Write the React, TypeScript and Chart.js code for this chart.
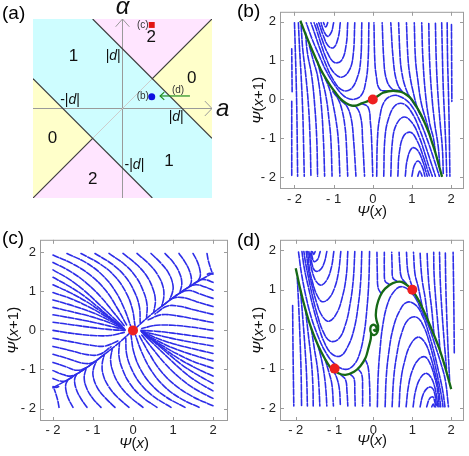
import React, { useEffect, useRef } from "react";
import { Chart, registerables } from "chart.js";
Chart.register(...registerables);

type Pt = [number, number];
type Line = Pt[];

const FONT = '"Liberation Sans", Arial, sans-serif';
const TICKS = [-2, -1, 0, 1, 2];
const TICK_LABELS = ["- 2", "- 1", "0", "1", "2"];

// ---------- panel (a): phase diagram in units of |d| ----------
const A_CYAN_UPPER: Line = [[-1.5, 2.5], [1.5, -0.5]];
const A_CYAN_LOWER: Line = [[-1.5, 0.5], [1.5, -2.5]];
const A_PINK_TOP: Line = [[-1.5, 2.5], [0.5, 0.5], [1.5, 1.5]];
const A_PINK_BOTTOM: Line = [[-1.5, -1.5], [-0.5, -0.5], [1.5, -2.5]];
const A_YELLOW_R_UP: Line = [[0.5, 0.5], [1.5, 1.5]];
const A_YELLOW_R_LO: Line = [[0.5, 0.5], [1.5, -0.5]];
const A_YELLOW_L_UP: Line = [[-1.5, 0.5], [-0.5, -0.5]];
const A_YELLOW_L_LO: Line = [[-1.5, -1.5], [-0.5, -0.5]];
const A_BOUNDARIES: Line[] = [
  [[-0.5, 1.5], [1.5, -0.5]],
  [[-1.5, 0.5], [0.5, -1.5]],
  [[0.5, 0.5], [1.5, 1.5]],
  [[-1.5, -1.5], [-0.5, -0.5]],
];
const A_FAINT: Line = [[-0.5, -0.5], [0.5, 0.5]];
const A_AXES: Line[] = [
  [[-1.5, 0], [1.5, 0]],
  [[0, -1.5], [0, 1.5]],
  [[1.38, 0.125], [1.5, 0], [1.38, -0.125]],
  [[-0.115, 1.37], [0, 1.5], [0.115, 1.37]],
];
const A_ARROW: Line[] = [
  [[1.13, 0.21], [0.63, 0.21]],
  [[0.7, 0.275], [0.63, 0.21], [0.7, 0.145]],
];
const A_POINT_B: Pt[] = [[0.49, 0.195]];
const A_POINT_C: Pt[] = [[0.49, 1.4]];
const A_NUMBERS = [
  { t: "1", a: -0.82, b: 0.87 },
  { t: "1", a: 0.78, b: -0.89 },
  { t: "0", a: 1.16, b: 0.5 },
  { t: "0", a: -1.175, b: -0.5 },
  { t: "2", a: 0.48, b: 1.19 },
  { t: "2", a: -0.5, b: -1.18 },
];
const A_D_LABELS = [
  { neg: false, a: -0.03, b: 0.87, align: "right" },
  { neg: true, a: -0.88, b: 0.14, align: "center" },
  { neg: false, a: 0.9, b: -0.14, align: "center" },
  { neg: true, a: 0.2, b: -0.95, align: "center" },
];
const A_SMALL = [
  { t: "(b)", a: 0.34, b: 0.2 },
  { t: "(c)", a: 0.34, b: 1.4 },
  { t: "(d)", a: 0.93, b: 0.31 },
];

// ---------- panel (b) ----------
const B_EDGE_LEFT: Line[] = [
  [[-2.07, 1.3], [-2.065, 0.7], [-2.06, 0.2]],
  [[-2.07, -0.05], [-2.07, -1.0], [-2.07, -1.95]],
  [[-2.0, 1.97], [-1.98, 1.3], [-1.96, 0.6], [-1.94, -0.3], [-1.93, -1.05], [-1.92, -1.97]],
  [[-1.9, 1.97], [-1.87, 1.3], [-1.83, 0.6], [-1.79, -0.3], [-1.77, -1.05], [-1.75, -1.97]],
];
const B_BELOW: Line[] = [
  [[-1.83, 1.9], [-1.79, 1.3], [-1.71, 0.6], [-1.64, -0.2], [-1.6, -1.05], [-1.58, -1.97]],
  [[-1.72, 1.72], [-1.67, 1.2], [-1.56, 0.6], [-1.48, -0.2], [-1.43, -1.05], [-1.41, -1.97]],
  [[-1.62, 1.38], [-1.52, 1.0], [-1.41, 0.6], [-1.32, -0.1], [-1.26, -1.05], [-1.23, -1.97]],
  [[-1.42, 1.0], [-1.32, 0.6], [-1.2, 0.1], [-1.12, -0.5], [-1.07, -1.05], [-1.04, -1.97]],
  [[-1.22, 0.55], [-1.1, 0.25], [-1.0, -0.2], [-0.93, -0.6], [-0.88, -1.05], [-0.84, -1.97]],
  [[-1.02, 0.2], [-0.88, 0.0], [-0.78, -0.3], [-0.71, -0.7], [-0.68, -1.05], [-0.64, -1.97]],
  [[-0.82, -0.02], [-0.66, -0.18], [-0.55, -0.5], [-0.49, -1.05], [-0.43, -1.97]],
  [[-0.6, -0.15], [-0.42, -0.2], [-0.3, -0.5], [-0.26, -1.05], [-0.21, -1.97]],
  [[-0.3, -0.1], [-0.12, -0.2], [-0.06, -0.6], [-0.03, -1.05], [0.0, -1.97]],
];
const B_EDGE_RIGHT: Line[] = [
  [[2.01, 1.92], [2.015, 0.9], [2.02, -0.05]],
  [[1.9, 1.97], [1.91, 1.05], [1.93, 0.3], [1.95, -0.6], [1.96, -1.3], [1.97, -1.97]],
  [[1.76, 1.97], [1.78, 1.05], [1.8, 0.3], [1.84, -0.6], [1.87, -1.3], [1.89, -1.97]],
];
const B_ABOVE: Line[] = [
  [[1.8, -1.9], [1.78, -1.3], [1.72, -0.6], [1.66, 0.2], [1.62, 1.05], [1.6, 1.97]],
  [[1.71, -1.7], [1.67, -1.2], [1.58, -0.6], [1.5, 0.2], [1.45, 1.05], [1.43, 1.97]],
  [[1.6, -1.35], [1.55, -1.0], [1.45, -0.6], [1.35, 0.1], [1.28, 1.05], [1.25, 1.97]],
  [[1.47, -0.95], [1.38, -0.6], [1.24, -0.1], [1.15, 0.5], [1.09, 1.05], [1.06, 1.97]],
  [[1.3, -0.55], [1.15, -0.25], [1.03, 0.2], [0.95, 0.6], [0.9, 1.05], [0.86, 1.97]],
  [[1.1, -0.18], [0.95, 0.05], [0.82, 0.35], [0.74, 0.7], [0.7, 1.05], [0.66, 1.97]],
  [[0.92, 0.08], [0.72, 0.24], [0.6, 0.5], [0.52, 1.05], [0.46, 1.97]],
  [[0.7, 0.22], [0.48, 0.28], [0.34, 0.55], [0.28, 1.05], [0.24, 1.97]],
  [[0.4, 0.21], [0.18, 0.26], [0.09, 0.6], [0.05, 1.05], [0.03, 1.97]],
];
const B_CUPS: Line[] = [
  [[-0.1, 1.97], [-0.12, 1.0], [-0.18, 0.45], [-0.3, 0.1], [-0.52, 0.0], [-0.75, 0.1], [-0.98, 0.38], [-1.2, 0.75], [-1.38, 1.15], [-1.55, 1.55], [-1.7, 1.97]],
  [[-0.28, 1.97], [-0.31, 1.0], [-0.4, 0.55], [-0.58, 0.25], [-0.8, 0.25], [-1.02, 0.52], [-1.2, 0.9], [-1.35, 1.3], [-1.48, 1.68], [-1.58, 1.97]],
  [[-0.46, 1.97], [-0.5, 1.15], [-0.6, 0.75], [-0.8, 0.57], [-1.02, 0.72], [-1.2, 1.08], [-1.34, 1.48], [-1.44, 1.8], [-1.5, 1.97]],
  [[-0.64, 1.97], [-0.68, 1.4], [-0.8, 1.0], [-0.98, 0.95], [-1.15, 1.18], [-1.3, 1.55], [-1.4, 1.85], [-1.44, 1.97]],
  [[-0.83, 1.97], [-0.88, 1.6], [-1.0, 1.33], [-1.14, 1.38], [-1.28, 1.68], [-1.36, 1.92], [-1.38, 1.97]],
  [[-1.0, 1.97], [-1.06, 1.72], [-1.16, 1.62], [-1.27, 1.8], [-1.32, 1.97]],
  [[-1.15, 1.97], [-1.2, 1.86], [-1.26, 1.97]],
];
const B_CAPS: Line[] = [
  [[0.1, -1.97], [0.12, -1.0], [0.18, -0.45], [0.3, -0.05], [0.52, 0.1], [0.75, 0.05], [0.98, -0.15], [1.2, -0.55], [1.38, -1.0], [1.55, -1.5], [1.7, -1.97]],
  [[0.28, -1.97], [0.31, -1.0], [0.4, -0.5], [0.58, -0.15], [0.8, -0.12], [1.02, -0.38], [1.2, -0.78], [1.35, -1.2], [1.48, -1.6], [1.6, -1.97]],
  [[0.46, -1.97], [0.5, -1.1], [0.6, -0.65], [0.8, -0.45], [1.02, -0.62], [1.2, -1.0], [1.34, -1.42], [1.44, -1.75], [1.52, -1.97]],
  [[0.64, -1.97], [0.68, -1.35], [0.8, -0.92], [0.98, -0.85], [1.15, -1.1], [1.3, -1.5], [1.4, -1.82], [1.45, -1.97]],
  [[0.83, -1.97], [0.88, -1.55], [1.0, -1.25], [1.14, -1.3], [1.28, -1.6], [1.37, -1.9], [1.39, -1.97]],
  [[1.0, -1.97], [1.06, -1.7], [1.16, -1.58], [1.27, -1.75], [1.33, -1.97]],
  [[1.15, -1.97], [1.2, -1.84], [1.26, -1.97]],
];
const B_MANIFOLD: Line[] = [
  [[-1.85, 2.02], [-1.72, 1.68], [-1.58, 1.34], [-1.45, 1.04], [-1.33, 0.77], [-1.2, 0.54], [-1.08, 0.35], [-0.95, 0.17], [-0.83, 0.02], [-0.68, -0.1], [-0.53, -0.16], [-0.4, -0.15], [-0.28, -0.1], [-0.14, -0.05], [0, 0], [0.13, 0.09], [0.26, 0.17], [0.4, 0.21], [0.52, 0.22], [0.63, 0.21], [0.73, 0.19], [0.86, 0.12], [0.98, 0.02], [1.1, -0.16], [1.23, -0.39], [1.34, -0.63], [1.44, -0.88], [1.52, -1.12], [1.6, -1.37], [1.68, -1.66], [1.77, -1.99]],
];
const B_FIXED: Pt[] = [[0, 0]];

// ---------- panel (c) ----------
const C_TOP: Line[] = [
  [[1.85, 1.97], [1.88, 1.8], [1.93, 1.62], [1.97, 1.5]],
  [[1.5, 1.97], [1.6, 1.78], [1.67, 1.56], [1.68, 1.38], [1.62, 1.26]],
  [[1.15, 1.97], [1.3, 1.75], [1.42, 1.5], [1.46, 1.26], [1.4, 1.1]],
  [[0.8, 1.97], [1.0, 1.75], [1.15, 1.5], [1.22, 1.22], [1.17, 0.96]],
  [[0.45, 1.97], [0.7, 1.72], [0.9, 1.45], [1.0, 1.15], [0.98, 0.95], [0.92, 0.8]],
  [[0.1, 1.97], [0.4, 1.7], [0.62, 1.42], [0.75, 1.12], [0.77, 0.85], [0.72, 0.63]],
  [[-0.25, 1.97], [0.1, 1.68], [0.35, 1.38], [0.5, 1.06], [0.56, 0.76], [0.52, 0.48]],
  [[-0.6, 1.97], [-0.2, 1.68], [0.08, 1.36], [0.26, 1.0], [0.35, 0.66], [0.34, 0.33]],
  [[-0.95, 1.97], [-0.5, 1.68], [-0.18, 1.36], [0.04, 0.98], [0.16, 0.6], [0.18, 0.2]],
  [[-1.3, 1.97], [-0.82, 1.7], [-0.45, 1.38], [-0.18, 0.98], [-0.02, 0.56], [0.05, 0.12]],
  [[-1.65, 1.97], [-1.15, 1.72], [-0.75, 1.4], [-0.44, 1.0], [-0.22, 0.56], [-0.06, 0.12]],
];
const C_LEFT: Line[] = [
  [[-2, 1.93], [-1.5, 1.7], [-1.05, 1.4], [-0.68, 1.02], [-0.4, 0.58], [-0.16, 0.14]],
  [[-2, 1.74], [-1.55, 1.5], [-1.15, 1.2], [-0.8, 0.85], [-0.5, 0.48], [-0.22, 0.12]],
  [[-2, 1.55], [-1.58, 1.3], [-1.22, 1.02], [-0.88, 0.7], [-0.57, 0.4], [-0.26, 0.1]],
  [[-2, 1.36], [-1.58, 1.12], [-1.22, 0.88], [-0.88, 0.6], [-0.57, 0.33], [-0.26, 0.08]],
  [[-2, 1.17], [-1.56, 0.96], [-1.17, 0.74], [-0.82, 0.5], [-0.52, 0.27], [-0.24, 0.06]],
  [[-2, 0.97], [-1.52, 0.8], [-1.1, 0.6], [-0.75, 0.4], [-0.46, 0.21], [-0.22, 0.05]],
  [[-2, 0.78], [-1.5, 0.63], [-1.02, 0.46], [-0.62, 0.27], [-0.22, 0.04]],
  [[-2, 0.59], [-1.5, 0.47], [-1.0, 0.34], [-0.6, 0.2], [-0.22, 0.03]],
  [[-2, 0.4], [-1.5, 0.31], [-1.0, 0.21], [-0.58, 0.11], [-0.2, 0.02]],
  [[-2, 0.21], [-1.5, 0.14], [-1.0, 0.07], [-0.56, 0.02], [-0.2, 0.0]],
  [[-2, 0.0], [-1.5, -0.08], [-1.0, -0.13], [-0.58, -0.13], [-0.22, -0.05]],
  [[-2, -0.2], [-1.5, -0.3], [-1.05, -0.38], [-0.7, -0.4], [-0.38, -0.27]],
  [[-2, -0.41], [-1.55, -0.52], [-1.15, -0.62], [-0.85, -0.62], [-0.55, -0.42]],
  [[-2, -0.61], [-1.6, -0.73], [-1.25, -0.84], [-1.0, -0.82], [-0.72, -0.62]],
  [[-2, -0.82], [-1.68, -0.93], [-1.42, -1.02], [-1.2, -0.97], [-0.95, -0.8]],
  [[-2, -1.03], [-1.78, -1.12], [-1.57, -1.17], [-1.38, -1.1], [-1.15, -0.94]],
  [[-2, -1.23], [-1.85, -1.29], [-1.7, -1.3], [-1.52, -1.2]],
  [[-2, -1.44], [-1.92, -1.46], [-1.82, -1.42]],
];
const C_BOTTOM: Line[] = [
  [[-1.85, -1.97], [-1.88, -1.8], [-1.93, -1.62], [-1.97, -1.5]],
  [[-1.5, -1.97], [-1.6, -1.78], [-1.67, -1.56], [-1.68, -1.38], [-1.62, -1.26]],
  [[-1.15, -1.97], [-1.3, -1.75], [-1.42, -1.5], [-1.46, -1.26], [-1.4, -1.1]],
  [[-0.8, -1.97], [-1.0, -1.75], [-1.15, -1.5], [-1.22, -1.22], [-1.17, -0.96]],
  [[-0.45, -1.97], [-0.7, -1.72], [-0.9, -1.45], [-1.0, -1.15], [-0.98, -0.95], [-0.92, -0.8]],
  [[-0.1, -1.97], [-0.4, -1.7], [-0.62, -1.42], [-0.75, -1.12], [-0.77, -0.85], [-0.72, -0.63]],
  [[0.25, -1.97], [-0.1, -1.68], [-0.35, -1.38], [-0.5, -1.06], [-0.56, -0.76], [-0.52, -0.48]],
  [[0.6, -1.97], [0.2, -1.68], [-0.08, -1.36], [-0.26, -1.0], [-0.35, -0.66], [-0.34, -0.33]],
  [[0.95, -1.97], [0.5, -1.68], [0.18, -1.36], [-0.04, -0.98], [-0.16, -0.6], [-0.18, -0.2]],
  [[1.3, -1.97], [0.82, -1.7], [0.45, -1.38], [0.18, -0.98], [0.02, -0.56], [-0.05, -0.12]],
  [[1.65, -1.97], [1.15, -1.72], [0.75, -1.4], [0.44, -1.0], [0.22, -0.56], [0.06, -0.12]],
];
const C_RIGHT: Line[] = [
  [[2, -1.93], [1.5, -1.7], [1.05, -1.4], [0.68, -1.02], [0.4, -0.58], [0.16, -0.14]],
  [[2, -1.74], [1.55, -1.5], [1.15, -1.2], [0.8, -0.85], [0.5, -0.48], [0.22, -0.12]],
  [[2, -1.55], [1.58, -1.3], [1.22, -1.02], [0.88, -0.7], [0.57, -0.4], [0.26, -0.1]],
  [[2, -1.36], [1.58, -1.12], [1.22, -0.88], [0.88, -0.6], [0.57, -0.33], [0.26, -0.08]],
  [[2, -1.17], [1.56, -0.96], [1.17, -0.74], [0.82, -0.5], [0.52, -0.27], [0.24, -0.06]],
  [[2, -0.97], [1.52, -0.8], [1.1, -0.6], [0.75, -0.4], [0.46, -0.21], [0.22, -0.05]],
  [[2, -0.78], [1.5, -0.63], [1.02, -0.46], [0.62, -0.27], [0.22, -0.04]],
  [[2, -0.59], [1.5, -0.47], [1.0, -0.34], [0.6, -0.2], [0.22, -0.03]],
  [[2, -0.4], [1.5, -0.31], [1.0, -0.21], [0.58, -0.11], [0.2, -0.02]],
  [[2, -0.21], [1.5, -0.14], [1.0, -0.07], [0.56, -0.02], [0.2, 0.0]],
  [[2, 0.0], [1.5, 0.08], [1.0, 0.13], [0.58, 0.13], [0.22, 0.05]],
  [[2, 0.2], [1.5, 0.3], [1.05, 0.38], [0.7, 0.4], [0.38, 0.27]],
  [[2, 0.41], [1.55, 0.52], [1.15, 0.62], [0.85, 0.62], [0.55, 0.42]],
  [[2, 0.61], [1.6, 0.73], [1.25, 0.84], [1.0, 0.82], [0.72, 0.62]],
  [[2, 0.82], [1.68, 0.93], [1.42, 1.02], [1.2, 0.97], [0.95, 0.8]],
  [[2, 1.03], [1.78, 1.12], [1.57, 1.17], [1.38, 1.1], [1.15, 0.94]],
  [[2, 1.23], [1.85, 1.29], [1.7, 1.3], [1.52, 1.2]],
  [[2, 1.44], [1.92, 1.46], [1.82, 1.42]],
];
const C_ARMS: Line[] = [
  [[2.0, 1.47], [1.6, 1.24], [1.2, 0.98], [0.8, 0.68], [0.4, 0.36], [0.06, 0.05]],
  [[-2.0, -1.47], [-1.6, -1.24], [-1.2, -0.98], [-0.8, -0.68], [-0.4, -0.36], [-0.06, -0.05]],
];
const C_FIXED: Pt[] = [[0, 0]];

// ---------- panel (d) ----------
const D_EDGE_LEFT: Line[] = [
  [[-2.08, 0.6], [-2.07, -0.5], [-2.05, -1.95]],
  [[-1.96, 1.3], [-1.92, 0.5], [-1.88, -0.5], [-1.86, -1.2], [-1.85, -1.95]],
];
const D_BELOW: Line[] = [
  [[-1.88, 1.0], [-1.82, 0.3], [-1.76, -0.5], [-1.72, -1.2], [-1.7, -1.95]],
  [[-1.75, 0.5], [-1.68, -0.1], [-1.6, -0.8], [-1.56, -1.4], [-1.55, -1.95]],
  [[-1.6, 0.02], [-1.52, -0.5], [-1.44, -1.0], [-1.4, -1.5], [-1.38, -1.95]],
  [[-1.43, -0.4], [-1.33, -0.8], [-1.26, -1.2], [-1.22, -1.6], [-1.2, -1.95]],
  [[-1.25, -0.75], [-1.15, -1.08], [-1.07, -1.4], [-1.03, -1.95]],
  [[-1.05, -1.02], [-0.95, -1.22], [-0.88, -1.5], [-0.85, -1.95]],
  [[-0.85, -1.15], [-0.72, -1.28], [-0.68, -1.6], [-0.66, -1.95]],
  [[-0.6, -1.14], [-0.5, -1.25], [-0.48, -1.6], [-0.47, -1.95]],
  [[-0.4, -1.0], [-0.3, -1.15], [-0.28, -1.5], [-0.28, -1.95]],
  [[-0.22, -0.75], [-0.14, -0.95], [-0.1, -1.4], [-0.09, -1.95]],
];
const D_EDGE_RIGHT: Line[] = [
  [[2.08, -0.6], [2.07, 0.5], [2.05, 1.95]],
  [[1.96, -1.3], [1.92, -0.5], [1.88, 0.5], [1.86, 1.2], [1.85, 1.95]],
];
const D_ABOVE: Line[] = [
  [[1.88, -1.0], [1.82, -0.3], [1.76, 0.5], [1.72, 1.2], [1.7, 1.95]],
  [[1.72, -0.6], [1.66, 0.1], [1.6, 0.8], [1.56, 1.4], [1.55, 1.95]],
  [[1.56, -0.15], [1.5, 0.5], [1.44, 1.0], [1.4, 1.5], [1.38, 1.95]],
  [[1.4, 0.25], [1.33, 0.8], [1.26, 1.2], [1.22, 1.6], [1.2, 1.95]],
  [[1.25, 0.6], [1.15, 1.08], [1.07, 1.4], [1.03, 1.95]],
  [[1.07, 0.9], [0.95, 1.22], [0.88, 1.5], [0.85, 1.95]],
  [[0.85, 1.15], [0.72, 1.32], [0.68, 1.6], [0.66, 1.95]],
  [[0.6, 1.22], [0.5, 1.3], [0.48, 1.6], [0.47, 1.95]],
  [[0.4, 1.14], [0.3, 1.22], [0.28, 1.5], [0.28, 1.95]],
  [[0.2, 0.9], [0.12, 1.05], [0.1, 1.4], [0.09, 1.95]],
];
const D_CUPS: Line[] = [
  [[-0.1, 1.97], [-0.12, 1.2], [-0.17, 0.5], [-0.24, -0.1], [-0.35, -0.6], [-0.5, -0.9], [-0.72, -1.02], [-1.0, -0.88], [-1.25, -0.55], [-1.45, -0.12], [-1.6, 0.3], [-1.73, 0.8], [-1.85, 1.4], [-1.93, 1.97]],
  [[-0.3, 1.97], [-0.33, 1.2], [-0.4, 0.55], [-0.5, 0.0], [-0.65, -0.42], [-0.85, -0.68], [-1.08, -0.62], [-1.28, -0.3], [-1.42, 0.1], [-1.55, 0.55], [-1.67, 1.05], [-1.78, 1.55], [-1.84, 1.97]],
  [[-0.48, 1.97], [-0.52, 1.25], [-0.6, 0.65], [-0.72, 0.12], [-0.9, -0.25], [-1.12, -0.3], [-1.3, -0.05], [-1.44, 0.35], [-1.56, 0.8], [-1.67, 1.3], [-1.75, 1.7], [-1.79, 1.97]],
  [[-0.66, 1.97], [-0.7, 1.35], [-0.8, 0.82], [-0.95, 0.4], [-1.15, 0.2], [-1.33, 0.35], [-1.47, 0.7], [-1.58, 1.1], [-1.67, 1.5], [-1.73, 1.97]],
  [[-0.84, 1.97], [-0.9, 1.45], [-1.0, 1.05], [-1.15, 0.78], [-1.32, 0.7], [-1.46, 0.88], [-1.57, 1.2], [-1.65, 1.55], [-1.69, 1.97]],
  [[-1.02, 1.97], [-1.08, 1.58], [-1.2, 1.25], [-1.35, 1.12], [-1.48, 1.22], [-1.58, 1.48], [-1.63, 1.75], [-1.66, 1.97]],
  [[-1.2, 1.97], [-1.27, 1.68], [-1.38, 1.5], [-1.5, 1.48], [-1.58, 1.65], [-1.62, 1.97]],
  [[-1.37, 1.97], [-1.44, 1.77], [-1.53, 1.72], [-1.58, 1.85], [-1.6, 1.97]],
  [[-1.5, 1.97], [-1.54, 1.9], [-1.57, 1.97]],
];
const D_CAPS: Line[] = [
  [[0.1, -1.97], [0.12, -1.2], [0.17, -0.5], [0.24, 0.1], [0.35, 0.6], [0.5, 0.92], [0.72, 1.08], [1.0, 0.9], [1.25, 0.45], [1.45, 0.0], [1.6, -0.45], [1.73, -0.85], [1.85, -1.3], [1.93, -1.97]],
  [[0.3, -1.97], [0.33, -1.2], [0.4, -0.55], [0.5, 0.0], [0.65, 0.42], [0.85, 0.68], [1.08, 0.62], [1.28, 0.3], [1.42, -0.1], [1.55, -0.55], [1.67, -1.05], [1.78, -1.55], [1.84, -1.97]],
  [[0.48, -1.97], [0.52, -1.25], [0.6, -0.65], [0.72, -0.12], [0.9, 0.25], [1.12, 0.3], [1.3, 0.05], [1.44, -0.35], [1.56, -0.8], [1.67, -1.3], [1.75, -1.7], [1.79, -1.97]],
  [[0.66, -1.97], [0.7, -1.35], [0.8, -0.82], [0.95, -0.4], [1.15, -0.2], [1.33, -0.35], [1.47, -0.7], [1.58, -1.1], [1.67, -1.5], [1.73, -1.97]],
  [[0.84, -1.97], [0.9, -1.45], [1.0, -1.05], [1.15, -0.78], [1.32, -0.7], [1.46, -0.88], [1.57, -1.2], [1.65, -1.55], [1.69, -1.97]],
  [[1.02, -1.97], [1.08, -1.58], [1.2, -1.25], [1.35, -1.12], [1.48, -1.22], [1.58, -1.48], [1.63, -1.75], [1.66, -1.97]],
  [[1.2, -1.97], [1.27, -1.68], [1.38, -1.5], [1.5, -1.48], [1.58, -1.65], [1.62, -1.97]],
  [[1.37, -1.97], [1.44, -1.77], [1.53, -1.72], [1.58, -1.85], [1.6, -1.97]],
  [[1.5, -1.97], [1.54, -1.9], [1.57, -1.97]],
];
const D_MANIFOLD: Line[] = [
  [[0.0, 0.0], [0.04, -0.05], [0.08, 0.02], [0.04, 0.1], [-0.04, 0.1], [-0.08, 0.02], [-0.06, -0.1], [0.02, -0.15], [0.1, -0.08], [0.12, 0.08], [0.08, 0.22], [0.06, 0.36], [0.09, 0.6], [0.17, 0.84], [0.3, 1.03], [0.5, 1.17], [0.72, 1.2], [0.97, 1.02], [1.17, 0.72], [1.35, 0.34], [1.52, -0.06], [1.69, -0.48], [1.85, -0.98], [2.0, -1.52]],
  [[-0.06, -0.1], [-0.07, -0.25], [-0.13, -0.48], [-0.2, -0.72], [-0.34, -0.94], [-0.5, -1.08], [-0.72, -1.16], [-0.9, -1.12], [-1.1, -0.98], [-1.25, -0.75], [-1.43, -0.4], [-1.6, 0.02], [-1.75, 0.5], [-1.88, 1.0], [-2.0, 1.55]],
];
const D_FIXED: Pt[] = [[-1, -1], [1, 1]];

// ---------- styles ----------
const STREAM = "rgb(45,45,232)";
const GREEN = "rgb(22,105,22)";
const RED = "rgb(238,32,32)";
const CYAN = "rgb(206,253,255)";
const PINK = "rgb(255,229,255)";
const YELLOW = "rgb(255,255,202)";

const xy = (line: Line) => line.map(([x, y]) => ({ x, y }));

function drawRich(ctx: CanvasRenderingContext2D, parts: [string, boolean][], x: number, y: number, size: number, align: string, color = "#111") {
  ctx.save();
  ctx.textBaseline = "middle";
  ctx.textAlign = "left";
  ctx.fillStyle = color;
  const fonts = parts.map(([, it]) => `${it ? "italic " : ""}${size}px ${FONT}`);
  const widths = parts.map(([t], i) => {
    ctx.font = fonts[i];
    return ctx.measureText(t).width;
  });
  const total = widths.reduce((s, w) => s + w, 0);
  let cx = align === "left" ? x : align === "center" ? x - total / 2 : x - total;
  parts.forEach(([t], i) => {
    ctx.font = fonts[i];
    ctx.fillText(t, cx, y);
    cx += widths[i];
  });
  ctx.restore();
}

function lineSet(line: Line, color: string, width: number, order: number, extra: any = {}) {
  return {
    data: xy(line),
    showLine: true,
    borderColor: color,
    borderWidth: width,
    pointRadius: 0,
    fill: false,
    order,
    ...extra,
  };
}

interface StreamSpec {
  label: string;
  streams: Line[];
  manifolds: Line[];
  fixed: Pt[];
  xRange: [number, number];
  yRange: [number, number];
  padTop: number;
  padRight: number;
  yWidth: number;
  xHeight: number;
  xTickPad: number;
  xTitleOff: number;
  yTitleOff: number;
  labelY: number;
}

function streamConfig(s: StreamSpec): any {
  const datasets: any[] = [];
  datasets.push({
    data: xy(s.fixed),
    showLine: false,
    pointRadius: 5,
    pointBackgroundColor: RED,
    pointBorderWidth: 0,
    order: 0,
  });
  s.manifolds.forEach((m) => datasets.push(lineSet(m, GREEN, 2.3, 1, { tension: 0.3 })));
  s.streams.forEach((m) =>
    datasets.push(lineSet(m, STREAM, 1.6, 2, { tension: 0.4, borderDash: [6, 1.6], borderCapStyle: "round" }))
  );
  const tickFont = { size: 13, family: FONT };
  const tickCb = (v: any) => {
    const i = TICKS.indexOf(Number(v));
    return i >= 0 ? TICK_LABELS[i] : "";
  };
  const frame = {
    id: "frame",
    afterDraw(chart: any) {
      const { ctx, chartArea: a, scales } = chart;
      ctx.save();
      ctx.strokeStyle = "#9c9c9c";
      ctx.lineWidth = 1;
      ctx.strokeRect(a.left + 0.5, a.top + 0.5, a.right - a.left - 1, a.bottom - a.top - 1);
      ctx.beginPath();
      for (const v of TICKS) {
        const px = Math.round(scales.x.getPixelForValue(v)) + 0.5;
        ctx.moveTo(px, a.bottom);
        ctx.lineTo(px, a.bottom - 4);
        ctx.moveTo(px, a.top);
        ctx.lineTo(px, a.top + 4);
        const py = Math.round(scales.y.getPixelForValue(v)) + 0.5;
        ctx.moveTo(a.left, py);
        ctx.lineTo(a.left + 4, py);
        ctx.moveTo(a.right, py);
        ctx.lineTo(a.right - 4, py);
      }
      ctx.stroke();
      ctx.restore();
      drawRich(ctx, [["Ψ", true], ["(", false], ["x", true], [")", false]], (a.left + a.right) / 2, a.bottom + s.xTitleOff, 15, "center");
      ctx.save();
      ctx.translate(a.left - s.yTitleOff, (a.top + a.bottom) / 2);
      ctx.rotate(-Math.PI / 2);
      drawRich(ctx, [["Ψ", true], ["(", false], ["x", true], ["+1)", false]], 0, 0, 15, "center");
      ctx.restore();
      drawRich(ctx, [[s.label, false]], 2, s.labelY, 19, "left", "#000");
    },
  };
  return {
    type: "scatter",
    data: { datasets },
    options: {
      animation: false,
      responsive: false,
      devicePixelRatio: 1,
      events: [],
      layout: { padding: { top: s.padTop, right: s.padRight, left: 0, bottom: 0 } },
      plugins: { legend: { display: false }, tooltip: { enabled: false } },
      scales: {
        x: {
          type: "linear",
          min: s.xRange[0],
          max: s.xRange[1],
          grid: { display: false, drawTicks: false },
          border: { display: false },
          ticks: { font: tickFont, color: "#222", padding: s.xTickPad, maxRotation: 0, autoSkip: false, callback: tickCb },
          afterBuildTicks: (sc: any) => {
            sc.ticks = TICKS.map((v) => ({ value: v }));
          },
          afterFit: (sc: any) => {
            sc.height = s.xHeight;
          },
        },
        y: {
          type: "linear",
          min: s.yRange[0],
          max: s.yRange[1],
          grid: { display: false, drawTicks: false },
          border: { display: false },
          ticks: { font: tickFont, color: "#222", padding: 4, autoSkip: false, callback: tickCb },
          afterBuildTicks: (sc: any) => {
            sc.ticks = TICKS.map((v) => ({ value: v }));
          },
          afterFit: (sc: any) => {
            sc.width = s.yWidth;
          },
        },
      },
    },
    plugins: [frame],
  };
}

function phaseConfig(): any {
  const datasets: any[] = [];
  const fillSet = (line: Line, color: string, fill: any) => ({
    data: xy(line),
    showLine: true,
    borderWidth: 0,
    borderColor: "rgba(0,0,0,0)",
    pointRadius: 0,
    backgroundColor: color,
    fill,
    order: 5,
  });
  datasets.push(fillSet(A_CYAN_UPPER, CYAN, "+1"));
  datasets.push(fillSet(A_CYAN_LOWER, CYAN, false));
  datasets.push(fillSet(A_YELLOW_R_UP, YELLOW, "+1"));
  datasets.push(fillSet(A_YELLOW_R_LO, YELLOW, false));
  datasets.push(fillSet(A_YELLOW_L_UP, YELLOW, "+1"));
  datasets.push(fillSet(A_YELLOW_L_LO, YELLOW, false));
  datasets.push(fillSet(A_PINK_TOP, PINK, "end"));
  datasets.push(fillSet(A_PINK_BOTTOM, PINK, "start"));
  datasets.push(lineSet(A_FAINT, "#cdcdcd", 1, 3));
  A_AXES.forEach((l) => datasets.push(lineSet(l, "#9a9a9a", 1, 3)));
  A_BOUNDARIES.forEach((l) => datasets.push(lineSet(l, "#3c3c3c", 1.2, 2)));
  A_ARROW.forEach((l) => datasets.push(lineSet(l, "rgb(30,140,30)", 1.2, 1)));
  datasets.push({ data: xy(A_POINT_B), showLine: false, pointRadius: 3.5, pointBackgroundColor: "rgb(15,15,225)", pointBorderWidth: 0, order: 0 });
  datasets.push({ data: xy(A_POINT_C), showLine: false, pointStyle: "rect", pointRadius: 4.2, pointBackgroundColor: "rgb(225,20,20)", pointBorderWidth: 0, order: 0 });

  const texts = {
    id: "phaseText",
    afterDraw(chart: any) {
      const { ctx, scales } = chart;
      const X = (v: number) => scales.x.getPixelForValue(v);
      const Y = (v: number) => scales.y.getPixelForValue(v);
      A_NUMBERS.forEach((n) => drawRich(ctx, [[n.t, false]], X(n.a), Y(n.b), 17, "center"));
      A_D_LABELS.forEach((d) =>
        drawRich(ctx, d.neg ? [["-|", false], ["d", true], ["|", false]] : [["|", false], ["d", true], ["|", false]], X(d.a), Y(d.b), 14, d.align)
      );
      A_SMALL.forEach((t) => drawRich(ctx, [[t.t, false]], X(t.a), Y(t.b), 10, "center", "#333"));
      drawRich(ctx, [["a", true]], X(1.68), Y(-0.02), 24, "center");
      drawRich(ctx, [["α", true]], X(0), Y(1.69), 24, "center");
      drawRich(ctx, [["(a)", false]], 2, 13.5, 19, "left", "#000");
    },
  };
  return {
    type: "scatter",
    data: { datasets },
    options: {
      animation: false,
      responsive: false,
      devicePixelRatio: 1,
      events: [],
      layout: { padding: { left: 33, top: 19, right: 22, bottom: 30 } },
      plugins: { legend: { display: false }, tooltip: { enabled: false } },
      scales: {
        x: { type: "linear", min: -1.5, max: 1.5, display: false },
        y: { type: "linear", min: -1.5, max: 1.5, display: false },
      },
    },
    plugins: [texts],
  };
}

function Panel({ make, left, top }: { make: () => any; left: number; top: number }) {
  const ref = useRef<HTMLCanvasElement | null>(null);
  useEffect(() => {
    const chart = new Chart(ref.current as HTMLCanvasElement, make());
    return () => chart.destroy();
  }, []);
  return (
    <canvas
      ref={ref}
      width={234}
      height={228}
      style={{ position: "absolute", left, top, width: 234, height: 228 }}
    />
  );
}

const SPEC_B: StreamSpec = {
  label: "(b)",
  streams: [...B_EDGE_LEFT, ...B_BELOW, ...B_EDGE_RIGHT, ...B_ABOVE, ...B_CUPS, ...B_CAPS],
  manifolds: B_MANIFOLD,
  fixed: B_FIXED,
  xRange: [-2.37, 2.33],
  yRange: [-2.3, 2.25],
  padTop: 5,
  padRight: 2,
  yWidth: 45,
  xHeight: 39,
  xTickPad: 3,
  xTitleOff: 23,
  yTitleOff: 21.5,
  labelY: 11.5,
};
const SPEC_C: StreamSpec = {
  label: "(c)",
  streams: [...C_TOP, ...C_LEFT, ...C_BOTTOM, ...C_RIGHT, ...C_ARMS],
  manifolds: [],
  fixed: C_FIXED,
  xRange: [-2.325, 2.375],
  yRange: [-2.32, 2.32],
  padTop: 5,
  padRight: 6,
  yWidth: 40,
  xHeight: 35,
  xTickPad: 2,
  xTitleOff: 23,
  yTitleOff: 26.5,
  labelY: 11,
};
const SPEC_D: StreamSpec = {
  label: "(d)",
  streams: [...D_EDGE_LEFT, ...D_BELOW, ...D_EDGE_RIGHT, ...D_ABOVE, ...D_CUPS, ...D_CAPS],
  manifolds: D_MANIFOLD,
  fixed: D_FIXED,
  xRange: [-2.405, 2.33],
  yRange: [-2.33, 2.27],
  padTop: 8,
  padRight: 2,
  yWidth: 45,
  xHeight: 35,
  xTickPad: 2,
  xTitleOff: 20,
  yTitleOff: 21.5,
  labelY: 12.5,
};

export default function App() {
  return (
    <div style={{ position: "absolute", left: 0, top: 0, width: 469, height: 456, background: "#fff" }}>
      <Panel make={phaseConfig} left={0} top={0} />
      <Panel make={() => streamConfig(SPEC_B)} left={235} top={0} />
      <Panel make={() => streamConfig(SPEC_C)} left={0} top={228} />
      <Panel make={() => streamConfig(SPEC_D)} left={235} top={228} />
    </div>
  );
}
